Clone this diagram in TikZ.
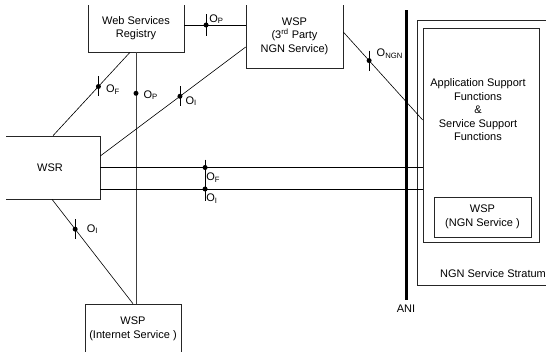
\documentclass[tikz,border=0pt]{standalone}
\usepackage{fontspec}
\setmainfont{Liberation Sans}
\usetikzlibrary{positioning,calc}
\tikzset{
  every node/.style={font=\fontsize{11}{13.5}\selectfont,text=black},
  box/.style={draw=black!85,line width=0.6pt,minimum width=96pt,align=center,inner sep=0pt},
  link/.style={draw=black,line width=0.6pt},
  refpt/.style={circle,fill=black,inner sep=0pt,minimum size=5pt},
  tickline/.style={draw=black,line width=0.8pt},
  lbl/.style={inner sep=1pt},
  aniline/.style={draw=black,line width=3pt},
}

\begin{document}
\begin{tikzpicture}[x=1pt,y=-1pt]
\useasboundingbox (0,0) rectangle (546,351);
\clip (6,5) rectangle (546,351);

% boxes
\node[box,minimum height=48pt] (reg) at (136,28) {Web Services\\Registry};
\node[box,minimum width=97pt,minimum height=64pt] (wsp3) at (294.5,36) {WSP\\(3\textsuperscript{rd} Party\\NGN Service)};
\node[box,minimum width=100pt,minimum height=63pt] (wsr) at (50,167.5) {WSR};
\node[box,minimum height=50pt] (winet) at (133,329) {WSP\\(Internet Service )};

% NGN service stratum
\node[box,minimum width=143pt,minimum height=265pt] (ngn) at (488.5,152.5) {};
\node[box,minimum width=116pt,minimum height=214pt] (asf) at (481,135) {};
\node[align=center] (asftext) at (478,110) {Application Support\\Functions\\\&\\Service Support\\Functions};
\node[box,minimum width=97pt,minimum height=40pt] (wspngn) at (482.5,217) {WSP\\(NGN Service )};
\node (ngnlbl) at (493,274) {NGN Service Stratum};

% ANI
\coordinate (anitop) at (406,10);
\node[anchor=north,inner sep=1pt] (ani) at (406,304) {ANI};
\draw[aniline] (anitop) -- ([yshift=4pt]ani.north);

% reference points
\draw[link] ([yshift=3pt]reg.east) -- node[refpt,pos=0.355,label={[lbl,yshift=-2pt]above right:O\textsubscript{P}}] (m1) {} ([yshift=3pt]reg.east -| wsp3.west);
\draw[link] ([xshift=-6pt]reg.south) -- node[refpt,pos=0.41,label={[lbl,xshift=3.5pt,yshift=-3pt]right:O\textsubscript{F}}] (m2) {} ([xshift=3pt]wsr.north);
\draw[link,draw=black!75] (reg.south) -- node[refpt,pos=0.163,label={[lbl,xshift=3.5pt,yshift=-2pt]right:O\textsubscript{P}}] (m3) {} (reg.south |- winet.north);
\draw[link] ([yshift=11.5pt]wsr.east) -- node[refpt,pos=0.548,label={[lbl,xshift=1.5pt,yshift=-5pt]right:O\textsubscript{I}}] (m4) {} ([yshift=-11pt]wsp3.west);
\draw[link] (wsr.east) -- node[refpt,pos=0.325,label={[lbl,xshift=-2pt,yshift=-2pt]below right:O\textsubscript{F}}] (m5) {} (wsr.east -| asf.west);
\draw[link] ([yshift=-21.5pt]wsr.east) -- node[refpt,pos=0.325,label={[lbl,xshift=-2pt,yshift=-2pt]below right:O\textsubscript{I}}] (m6) {} ([yshift=-21.5pt]wsr.east -| asf.west);
\draw[link] ([xshift=2pt]wsr.south) -- node[refpt,pos=0.286,label={[lbl,xshift=7.5pt]right:O\textsubscript{I}}] (m7) {} (winet.north);
\draw[link] ([yshift=4pt]wsp3.east) -- node[refpt,pos=0.325,label={[lbl,xshift=3.5pt,yshift=7pt]right:O\textsubscript{NGN}}] (m8) {} ([yshift=15pt]asf.west);

% ticks
\draw[tickline] ([yshift=11pt]m1.center) -- ([yshift=-11pt]m1.center);
\draw[tickline] ([yshift=10pt]m2.center) -- ([yshift=-10pt]m2.center);
\draw[tickline] ([yshift=10pt]m4.center) -- ([yshift=-10pt]m4.center);
\draw[tickline] ([yshift=8pt]m5.center) -- ([yshift=-12pt]m6.center);
\draw[tickline] ([yshift=10pt]m7.center) -- ([yshift=-10pt]m7.center);
\draw[tickline] ([yshift=10pt]m8.center) -- ([yshift=-10pt]m8.center);

\end{tikzpicture}
\end{document}
